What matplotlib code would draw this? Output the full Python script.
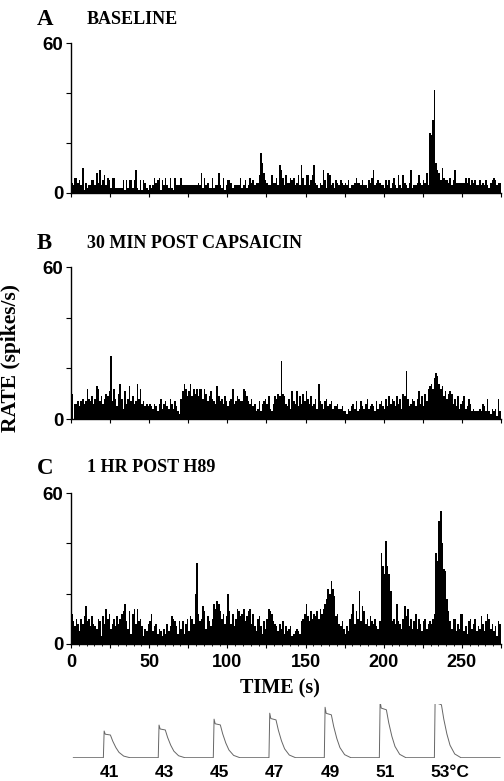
import numpy as np
import matplotlib
matplotlib.use("Agg")
import matplotlib.pyplot as plt
import matplotlib.transforms as mtransforms

# firing rate (spikes/s) in 1 s bins, t = 0 .. 274 s
rateBaseline = [
    4, 3, 6, 6, 4, 5, 3, 10, 1, 4,
    2, 3, 3, 5, 5, 3, 8, 4, 9, 3,
    5, 7, 3, 6, 5, 2, 6, 6, 2, 2,
    2, 2, 2, 5, 1, 5, 2, 5, 5, 2,
    5, 9, 2, 1, 5, 1, 5, 4, 2, 1,
    3, 2, 3, 6, 4, 5, 6, 1, 5, 3,
    6, 3, 2, 6, 2, 1, 6, 3, 3, 3,
    6, 3, 3, 3, 3, 3, 3, 3, 3, 3,
    3, 4, 3, 8, 2, 6, 3, 4, 2, 2,
    6, 2, 3, 3, 8, 3, 2, 6, 1, 3,
    5, 5, 4, 2, 3, 3, 3, 3, 6, 2,
    3, 5, 2, 3, 6, 4, 5, 3, 4, 4,
    7, 16, 12, 8, 5, 4, 3, 3, 7, 4,
    4, 6, 3, 11, 9, 6, 3, 7, 4, 4,
    6, 5, 6, 3, 4, 7, 3, 11, 6, 3,
    7, 7, 3, 5, 7, 11, 4, 3, 2, 4,
    3, 9, 5, 2, 8, 7, 3, 4, 2, 5,
    4, 3, 5, 4, 3, 4, 3, 5, 2, 3,
    3, 4, 6, 4, 4, 3, 5, 3, 3, 2,
    5, 4, 6, 9, 3, 4, 5, 4, 3, 3,
    2, 5, 3, 5, 2, 4, 6, 3, 2, 7,
    3, 2, 7, 4, 3, 2, 4, 9, 2, 3,
    3, 4, 7, 4, 3, 5, 4, 8, 3, 24,
    23, 29, 41, 12, 9, 8, 5, 10, 6, 5,
    5, 4, 6, 3, 5, 9, 4, 4, 4, 4,
    4, 4, 6, 4, 6, 3, 5, 4, 5, 3,
    3, 5, 3, 4, 3, 5, 3, 2, 4, 5,
    6, 5, 3, 4, 4,
]

rateCapsaicin = [
    10, 0, 6, 6, 7, 5, 7, 8, 6, 7,
    12, 8, 7, 9, 6, 8, 13, 12, 7, 9,
    6, 8, 10, 9, 11, 25, 7, 12, 8, 5,
    10, 14, 8, 4, 11, 6, 8, 13, 7, 9,
    6, 7, 14, 8, 12, 6, 7, 5, 6, 5,
    6, 5, 4, 6, 5, 3, 6, 8, 4, 6,
    7, 5, 4, 8, 6, 4, 7, 5, 3, 2,
    8, 11, 14, 12, 9, 11, 14, 9, 12, 10,
    12, 9, 12, 12, 8, 12, 10, 7, 9, 11,
    8, 7, 6, 13, 9, 7, 8, 6, 9, 7,
    5, 7, 8, 12, 6, 7, 9, 8, 7, 7,
    12, 11, 9, 7, 6, 8, 5, 6, 3, 4,
    7, 3, 6, 7, 8, 6, 9, 4, 3, 6,
    9, 8, 10, 9, 23, 10, 9, 6, 5, 8,
    4, 11, 7, 6, 11, 5, 9, 6, 10, 7,
    11, 8, 6, 9, 5, 6, 8, 4, 14, 7,
    6, 4, 7, 8, 5, 6, 7, 4, 5, 5,
    6, 4, 4, 5, 3, 3, 2, 4, 3, 5,
    6, 4, 7, 3, 4, 7, 5, 4, 6, 8,
    4, 5, 6, 5, 3, 7, 4, 6, 7, 5,
    4, 8, 5, 9, 6, 8, 7, 5, 9, 6,
    8, 4, 10, 9, 19, 8, 5, 6, 8, 7,
    5, 8, 11, 6, 9, 5, 10, 7, 12, 13,
    14, 12, 16, 18, 17, 14, 12, 13, 9, 11,
    8, 10, 11, 10, 6, 8, 5, 9, 4, 6,
    7, 9, 4, 5, 8, 6, 3, 4, 3, 3,
    3, 4, 3, 6, 5, 3, 8, 3, 2, 4,
    3, 4, 1, 8, 3,
]

rateH89 = [
    12, 9, 7, 10, 8, 5, 10, 8, 11, 15,
    9, 10, 7, 11, 8, 7, 6, 10, 9, 3,
    11, 8, 14, 10, 12, 6, 8, 10, 7, 11,
    8, 10, 12, 13, 16, 9, 6, 13, 4, 12,
    14, 8, 14, 9, 10, 7, 3, 6, 5, 8,
    9, 12, 5, 7, 8, 4, 6, 5, 3, 6,
    4, 8, 5, 7, 11, 10, 9, 7, 4, 9,
    6, 9, 4, 8, 10, 5, 11, 10, 8, 20,
    32, 12, 9, 10, 15, 13, 6, 11, 9, 7,
    10, 16, 14, 17, 16, 13, 10, 12, 8, 11,
    20, 13, 8, 12, 7, 10, 14, 13, 11, 12,
    14, 9, 11, 13, 14, 8, 12, 7, 5, 10,
    11, 7, 4, 9, 6, 10, 14, 13, 12, 9,
    8, 7, 5, 8, 6, 9, 4, 7, 5, 6,
    7, 3, 4, 5, 6, 5, 4, 9, 10, 12,
    16, 11, 9, 13, 10, 12, 11, 13, 10, 14,
    12, 14, 16, 18, 22, 20, 25, 22, 19, 11,
    12, 8, 7, 9, 6, 4, 7, 5, 10, 12,
    16, 8, 13, 10, 21, 9, 15, 13, 8, 10,
    7, 11, 9, 8, 10, 7, 6, 9, 36, 31,
    28, 41, 31, 28, 21, 9, 10, 8, 16, 9,
    8, 6, 10, 15, 11, 14, 7, 10, 6, 9,
    12, 6, 10, 8, 5, 9, 10, 6, 8, 9,
    8, 10, 12, 36, 33, 49, 53, 40, 30, 29,
    18, 13, 9, 6, 10, 10, 5, 8, 6, 12,
    12, 5, 7, 4, 9, 10, 6, 8, 10, 5,
    7, 6, 11, 8, 5, 9, 12, 10, 6, 8,
    5, 7, 3, 9, 8,
]

panelLetters = ["A", "B", "C"]
panelTitles = ["BASELINE", "30 MIN POST CAPSAICIN", "1 HR POST H89"]

# heat stimuli: onset (s) and target temperature (deg C)
stimOnsets = [20.7, 55.8, 91.0, 126.6, 162.0, 197.2, 232.4]
stimTemps = [41, 43, 45, 47, 49, 51, 53]
baseTemp = 32
traceStart = 1.5
traceEnd = 274.4
# shape of one ramp: seconds after onset, fraction of step
pulseDt = [0, 0.5, 1.2, 4.5, 6.0, 8.0, 10.0, 13.0, 17.0]
pulseFrac = [0, 1.0, 0.88, 0.85, 0.62, 0.38, 0.2, 0.06, 0]

W, H = 504, 781
axLeft, axRight = 71, 501
panelTops = [43, 267, 493]
panelBottoms = [192.5, 419, 644]

serif = "Liberation Serif"
sans = "Liberation Sans"


def figRect(left, top, right, bottom):
    return [left / W, 1 - bottom / H, (right - left) / W, (bottom - top) / H]


def plotPanel(fig, i, rates, showX):
    ax = fig.add_axes(figRect(axLeft, panelTops[i], axRight, panelBottoms[i]))
    edges = np.arange(len(rates) + 1)
    ax.stairs(rates, edges, fill=True, color="black", linewidth=0)
    ax.set_xlim(0, 275)
    ax.set_ylim(0, 60)
    ax.spines["top"].set_visible(False)
    ax.spines["right"].set_visible(False)
    ax.spines["left"].set_linewidth(1.0)
    ax.spines["bottom"].set_linewidth(1.0)
    ax.set_yticks([0, 20, 40, 60])
    ax.set_yticklabels(["0", "", "", "60"])
    ax.set_xticks(np.arange(0, 276, 25))
    ax.tick_params(axis="y", length=3.5, width=0.8, pad=2)
    ax.tick_params(axis="x", length=3, width=0.8, pad=4)
    for lab in ax.get_yticklabels():
        lab.set_fontfamily(sans)
        lab.set_fontweight("bold")
        lab.set_fontsize(13.5)
    if showX:
        ax.set_xticklabels(["0", "", "50", "", "100", "", "150", "", "200", "", "250", ""])
        ax.set_xticks(np.arange(0, 276, 5), minor=True)
        ax.tick_params(axis="x", which="minor", length=1.5, width=0.6)
        for lab in ax.get_xticklabels():
            lab.set_fontfamily(sans)
            lab.set_fontweight("bold")
            lab.set_fontsize(13)
    else:
        ax.set_xticklabels([])
    return ax


def plotStimulus(fig):
    ax = fig.add_axes(figRect(axLeft, 704.3, axRight, 757.7))
    t = [traceStart]
    y = [baseTemp]
    for onset, temp in zip(stimOnsets, stimTemps):
        for dt, fr in zip(pulseDt, pulseFrac):
            t.append(onset + dt)
            y.append(baseTemp + fr * (temp - baseTemp))
    t.append(traceEnd)
    y.append(baseTemp)
    ax.plot(t, y, color="0.4", linewidth=0.7)
    ax.set_xlim(0, 275)
    ax.set_ylim(baseTemp, 50)
    ax.axis("off")
    trans = mtransforms.blended_transform_factory(ax.transData, ax.transAxes)
    for k, (onset, temp) in enumerate(zip(stimOnsets, stimTemps)):
        label = str(temp) + ("°C" if k == len(stimTemps) - 1 else "")
        ax.text(onset - 2.5, -0.28, label, transform=trans, ha="left", va="center",
                fontfamily=sans, fontweight="bold", fontsize=12.5, clip_on=False)


def main():
    fig = plt.figure(figsize=(W / 100, H / 100), dpi=100)
    allRates = [rateBaseline, rateCapsaicin, rateH89]
    for i, rates in enumerate(allRates):
        plotPanel(fig, i, rates, showX=(i == 2))

    letterBase = [25, 249, 473.5]
    for i in range(3):
        fig.text(37 / W, 1 - letterBase[i] / H, panelLetters[i], fontfamily=serif,
                 fontweight="bold", fontsize=16.5, ha="left", va="baseline")
        fig.text(87 / W, 1 - (letterBase[i] - 1.5) / H, panelTitles[i], fontfamily=serif,
                 fontweight="bold", fontsize=13, ha="left", va="baseline")

    fig.text(11 / W, 1 - 358 / H, "RATE (spikes/s)", rotation=90, fontfamily=serif,
             fontweight="bold", fontsize=15.5, ha="center", va="center")
    fig.text(280 / W, 1 - 693 / H, "TIME (s)", fontfamily=serif,
             fontweight="bold", fontsize=14.5, ha="center", va="baseline")

    plotStimulus(fig)
    fig.savefig("out.png", dpi=100)


if __name__ == "__main__":
    main()
